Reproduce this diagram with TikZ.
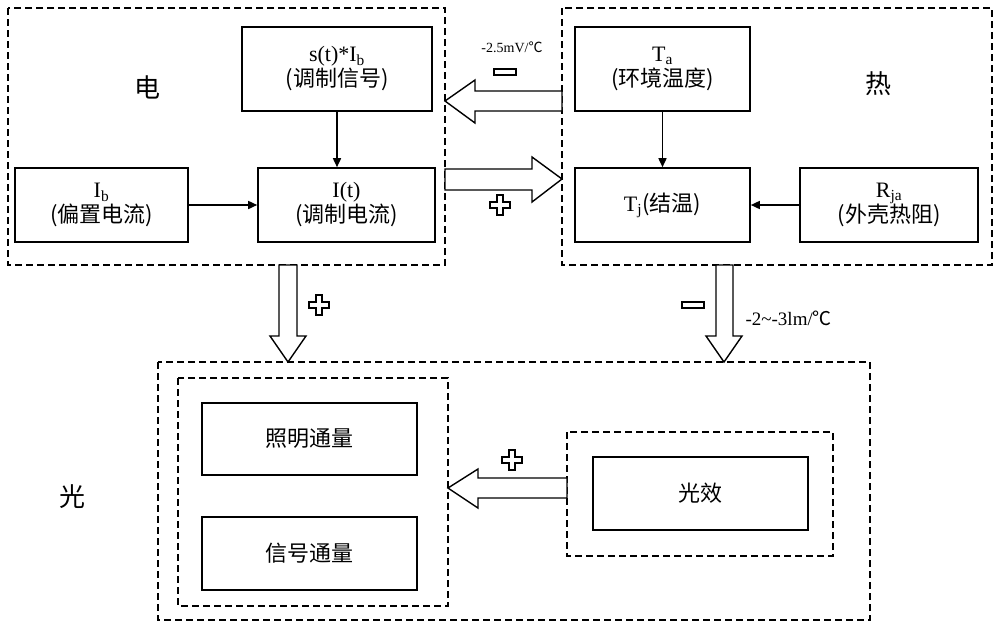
\documentclass[tikz,border=0pt]{standalone}
\usepackage{fontspec}
\setmainfont{Liberation Serif}
\newfontfamily\cjk{Noto Sans CJK SC}
\usetikzlibrary{arrows.meta}
\begin{document}
\begin{tikzpicture}[x=1pt,y=-1pt,
  box/.style={draw,line width=1.6pt,inner sep=0pt,align=center,font=\fontsize{22}{25}\selectfont},
  dbox/.style={draw,line width=1.6pt,dash pattern=on 7pt off 4pt},
  barrow/.style={draw,line width=1.4pt,fill=white},
  conn/.style={line width=1.6pt,-{Triangle[length=9pt,width=8pt]}},
  lbl/.style={font=\fontsize{26}{28}\selectfont\cjk}]
\useasboundingbox (0,0) rectangle (1000,633);
% dashed group boxes
\draw[dbox] (8,8) rectangle (445,265);
\draw[dbox] (562,8) rectangle (992,265);
\draw[dbox] (158,362) rectangle (870,620);
\draw[dbox] (178,378) rectangle (448,606);
\draw[dbox] (567,432) rectangle (833,556);
% nodes
\node[box,minimum width=190pt,minimum height=84pt] (s) at (337,69) {s(t)*I$_\mathrm{b}$\\{\cjk (调制信号)}};
\node[box,minimum width=173pt,minimum height=74pt] (ib) at (101.5,205) {I$_\mathrm{b}$\\{\cjk (偏置电流)}};
\node[box,minimum width=177pt,minimum height=74pt] (it) at (346.5,205) {I(t)\\{\cjk (调制电流)}};
\node[box,minimum width=175pt,minimum height=84pt] (ta) at (662.5,69) {T$_\mathrm{a}$\\{\cjk (环境温度)}};
\node[box,minimum width=175pt,minimum height=74pt] (tj) at (662.5,205) {T$_\mathrm{j}${\cjk (结温)}};
\node[box,minimum width=178pt,minimum height=74pt] (rja) at (889,205) {R$_\mathrm{ja}$\\{\cjk (外壳热阻)}};
\node[box,minimum width=215pt,minimum height=72pt,font=\fontsize{22}{25}\selectfont\cjk] (zm) at (309.5,439) {照明通量};
\node[box,minimum width=215pt,minimum height=73pt,font=\fontsize{22}{25}\selectfont\cjk] (xh) at (309.5,553.5) {信号通量};
\node[box,minimum width=215pt,minimum height=73pt,font=\fontsize{22}{25}\selectfont\cjk] (gx) at (700.5,493.5) {光效};
\node[lbl] (e) at (147,87) {电};
\node[lbl] (h) at (878,84) {热};
\node[lbl] (g) at (72,497) {光};
% connectors
\draw[conn] (s.south) -- (s.south |- it.north);
\draw[conn] (ib) -- (it);
\draw[conn] (ta) -- (tj);
\draw[conn] (rja) -- (tj);
% block arrows
\draw[barrow] (562,91)--(475,91)--(475,80)--(445,101)--(475,123)--(475,111)--(562,111)--cycle;
\draw[barrow] (445,169)--(532,169)--(532,157)--(562,179)--(532,202)--(532,190)--(445,190)--cycle;
\draw[barrow] (279,265)--(279,336)--(270,336)--(288,362)--(306,336)--(297,336)--(297,265)--cycle;
\draw[barrow] (716,265)--(716,336)--(706,336)--(724,362)--(742,336)--(733,336)--(733,265)--cycle;
\draw[barrow] (567,478)--(478,478)--(478,469)--(448,488)--(478,508)--(478,498)--(567,498)--cycle;
% signs
\tikzset{plus/.pic={\draw[line width=1.1pt,fill=white] (-3,-10)--(3,-10)--(3,-3)--(10,-3)--(10,3)--(3,3)--(3,10)--(-3,10)--(-3,3)--(-10,3)--(-10,-3)--(-3,-3)--cycle;},
 minus/.pic={\draw[line width=1.1pt,fill=white] (-11,-3) rectangle (11,3);}}
\pic at (500,205) {plus};
\pic at (319,305) {plus};
\pic at (512,460) {plus};
\pic at (505,72) {minus};
\pic at (693,305) {minus};
\node[font=\fontsize{14}{16}\selectfont] (t1) at (512,47) {-2.5mV/{\cjk ℃}};
\node[font=\fontsize{19}{21}\selectfont,anchor=west] (t2) at (742,318) {-2\textasciitilde-3lm/{\cjk ℃}};
\end{tikzpicture}
\end{document}
